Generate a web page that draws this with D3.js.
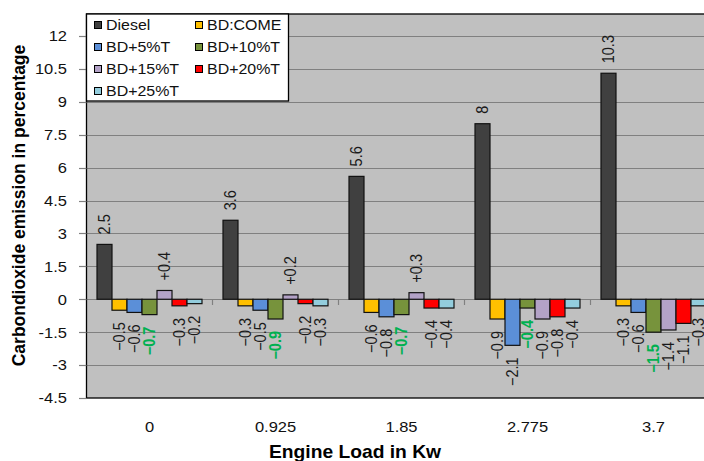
<!DOCTYPE html>
<html>
<head>
<meta charset="utf-8">
<script src="https://cdn.jsdelivr.net/npm/d3@7/dist/d3.min.js"></script>
<style>
  html, body { margin: 0; padding: 0; background: #fff; }
  svg { display: block; font-family: "Liberation Sans", Arial, sans-serif; }
</style>
</head>
<body>
<svg id="chart" width="704" height="461"></svg>
<script>
// Engine load categories (kW)
const loads = ["0", "0.925", "1.85", "2.775", "3.7"];

// Series names and colours
const seriesNames = ["Diesel", "BD:COME", "BD+5%T", "BD+10%T", "BD+15%T", "BD+20%T", "BD+25%T"];
const seriesColors = ["#404040", "#FFC000", "#5B8FD8", "#77933C", "#B3A2C7", "#FF0000", "#93CDDD"];

// Change in CO2 emission (%) per series, one value per load
const diesel = [2.5, 3.6, 5.6, 8, 10.3];
const bdCome = [-0.5, -0.3, -0.6, -0.9, -0.3];
const bd5T   = [-0.6, -0.5, -0.8, -2.1, -0.6];
const bd10T  = [-0.7, -0.9, -0.7, -0.4, -1.5];
const bd15T  = [0.4, 0.2, 0.3, -0.9, -1.4];
const bd20T  = [-0.3, -0.2, -0.4, -0.8, -1.1];
const bd25T  = [-0.2, -0.3, -0.4, -0.4, -0.3];

// Y axis tick labels
const yTicks = [-4.5, -3, -1.5, 0, 1.5, 3, 4.5, 6, 7.5, 9, 10.5, 12];

const seriesValues = [diesel, bdCome, bd5T, bd10T, bd15T, bd20T, bd25T];

const svg = d3.select("#chart");
const SX = 1.1; // horizontal text stretch

const plot = { left: 86.5, top: 14, bottom: 398, bandW: 126 };

const x0 = d3.scaleBand()
  .domain(loads)
  .range([plot.left, plot.left + plot.bandW * loads.length])
  .padding(0);

const x1 = d3.scaleBand()
  .domain(seriesNames)
  .range([10.5, plot.bandW - 10.5])
  .padding(0);

const y = d3.scaleLinear().domain([-4.5, 13]).range([plot.bottom, plot.top]);

const plotRight = plot.left + plot.bandW * loads.length;

// Plot background
svg.append("rect")
  .attr("x", plot.left).attr("y", plot.top)
  .attr("width", plotRight - plot.left).attr("height", plot.bottom - plot.top)
  .attr("fill", "#C0C0C0");

// Horizontal grid lines
svg.append("g").selectAll("line")
  .data(yTicks.filter(d => d > -4.5))
  .join("line")
  .attr("x1", plot.left).attr("x2", plotRight)
  .attr("y1", d => Math.round(y(d)) + 0.5).attr("y2", d => Math.round(y(d)) + 0.5)
  .attr("stroke", "#808080").attr("stroke-width", 1.2);

// Category tick marks on the zero line
svg.append("g").selectAll("line")
  .data(loads.slice(1))
  .join("line")
  .attr("x1", d => x0(d)).attr("x2", d => x0(d))
  .attr("y1", Math.round(y(0))).attr("y2", Math.round(y(0)) + 6)
  .attr("stroke", "#808080").attr("stroke-width", 1.2);

// Bars
const groups = svg.append("g").selectAll("g")
  .data(loads)
  .join("g")
  .attr("transform", d => `translate(${x0(d)},0)`);

groups.selectAll("rect")
  .data((d, i) => seriesNames.map((s, k) => ({ s, k, v: seriesValues[k][i] })))
  .join("rect")
  .attr("x", d => x1(d.s))
  .attr("width", x1.bandwidth())
  .attr("y", d => y(Math.max(0, d.v)))
  .attr("height", d => Math.abs(y(d.v) - y(0)))
  .attr("fill", d => seriesColors[d.k])
  .attr("stroke", "#111")
  .attr("stroke-width", 1.2);

// Value labels, rotated
groups.selectAll("text")
  .data((d, i) => seriesNames.map((s, k) => ({ s, k, v: seriesValues[k][i] })))
  .join("text")
  .attr("transform", d => {
    const cx = x1(d.s) + x1.bandwidth() / 2;
    const cy = d.v >= 0 ? y(d.v) - 10 : y(d.v) + 12;
    return `translate(${cx},${cy}) scale(${SX},1) rotate(-90)`;
  })
  .attr("dy", "0.36em")
  .attr("text-anchor", d => d.v >= 0 ? "start" : "end")
  .attr("font-size", 14.5)
  .attr("font-weight", d => d.k === 3 ? "bold" : "normal")
  .attr("fill", d => d.k === 3 ? "#00B050" : "#1a1a1a")
  .text(d => (d.k === 4 && d.v > 0 ? "+" : "") + d3.format("")(d.v));

// Plot frame
svg.append("rect")
  .attr("x", plot.left).attr("y", plot.top)
  .attr("width", plotRight - plot.left).attr("height", plot.bottom - plot.top)
  .attr("fill", "none").attr("stroke", "#000").attr("stroke-width", 1.3);

// Y axis ticks and labels
const yAxis = svg.append("g");
yAxis.selectAll("line")
  .data(yTicks)
  .join("line")
  .attr("x1", 79).attr("x2", plot.left)
  .attr("y1", d => Math.round(y(d)) + 0.5).attr("y2", d => Math.round(y(d)) + 0.5)
  .attr("stroke", "#808080").attr("stroke-width", 1.2);
yAxis.selectAll("text")
  .data(yTicks)
  .join("text")
  .attr("transform", d => `translate(67,${y(d)}) scale(${SX},1)`)
  .attr("dy", "0.36em")
  .attr("text-anchor", "end")
  .attr("font-size", 15)
  .attr("fill", "#111")
  .text(d => d);

// X axis labels
svg.append("g").selectAll("text")
  .data(loads)
  .join("text")
  .attr("transform", d => `translate(${x0(d) + x0.bandwidth() / 2},427) scale(${SX},1)`)
  .attr("dy", "0.36em")
  .attr("text-anchor", "middle")
  .attr("font-size", 15)
  .attr("fill", "#111")
  .text(d => d);

// Axis titles
svg.append("text")
  .attr("transform", `translate(355,452) scale(${SX},1)`)
  .attr("dy", "0.36em")
  .attr("text-anchor", "middle")
  .attr("font-size", 17.5)
  .attr("font-weight", "bold")
  .attr("fill", "#000")
  .text("Engine Load in Kw");

svg.append("text")
  .attr("transform", `translate(18,205.5) scale(${SX},1) rotate(-90)`)
  .attr("dy", "0.36em")
  .attr("text-anchor", "middle")
  .attr("font-size", 17.5)
  .attr("font-weight", "bold")
  .attr("fill", "#000")
  .text("Carbondioxide emission in percentage");

// Legend
const legend = svg.append("g");
legend.append("rect")
  .attr("x", 86.5).attr("y", 14)
  .attr("width", 202).attr("height", 87)
  .attr("fill", "#fff").attr("stroke", "#000").attr("stroke-width", 1.3);

const items = legend.selectAll("g")
  .data(seriesNames)
  .join("g")
  .attr("transform", (d, i) => `translate(${i % 2 === 0 ? 94 : 195},${25 + Math.floor(i / 2) * 22})`);
items.append("rect")
  .attr("x", 0.5).attr("y", -3.5)
  .attr("width", 7).attr("height", 7)
  .attr("fill", (d, i) => seriesColors[i])
  .attr("stroke", "#000").attr("stroke-width", 1);
items.append("text")
  .attr("transform", `translate(12,0) scale(${SX},1)`)
  .attr("dy", "0.36em")
  .attr("font-size", 14.5)
  .attr("fill", "#111")
  .text(d => d);
</script>
</body>
</html>
